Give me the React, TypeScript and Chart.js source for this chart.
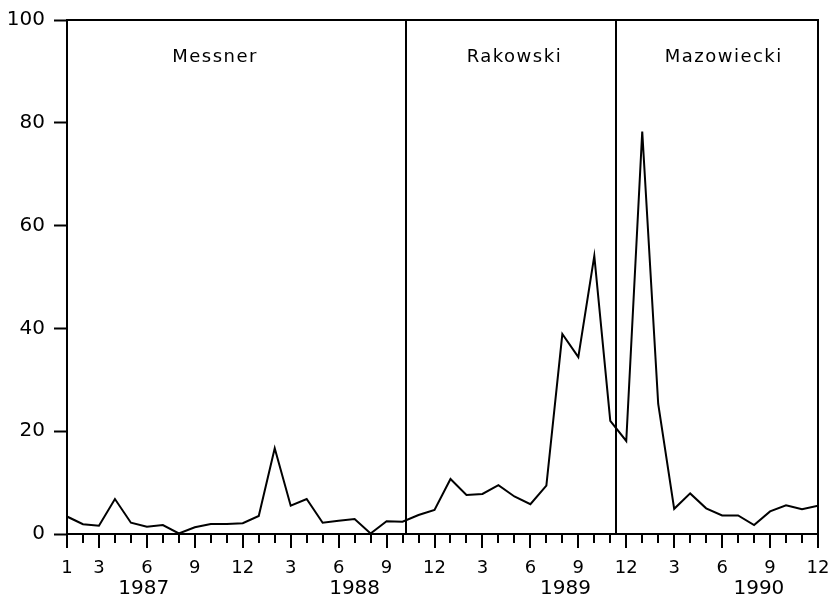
import React, { useEffect, useRef } from 'react';
import { Chart, registerables } from 'chart.js';

Chart.register(...registerables);

// Month index: 1 = Jan 1987 ... 48 = Dec 1990
const months: number[] = Array.from({ length: 48 }, (_, i) => i + 1);

const seriesValues: number[] = [
  3.4, 1.9, 1.6, 6.8, 2.2, 1.4, 1.75, 0.1, 1.3, 1.95, 1.95, 2.1,
  3.5, 16.7, 5.5, 6.8, 2.2, 2.6, 2.9, 0.1, 2.5, 2.4, 3.7, 4.7,
  10.7, 7.6, 7.8, 9.5, 7.3, 5.8, 9.4, 38.9, 34.4, 54.1, 22.0, 18.1,
  78.3, 25.3, 4.9, 7.9, 5.0, 3.6, 3.6, 1.75, 4.4, 5.6, 4.8, 5.5,
];

const majorTicks: number[] = [1, 3, 6, 9, 12, 15, 18, 21, 24, 27, 30, 33, 36, 39, 42, 45, 48];
const majorTickLabels: string[] = ['1', '3', '6', '9', '12', '3', '6', '9', '12', '3', '6', '9', '12', '3', '6', '9', '12'];

const yearLabels: string[] = ['1987', '1988', '1989', '1990'];
const yearLabelPositions: number[] = [5.8, 19.0, 32.2, 44.3];

const yTicks: number[] = [0, 20, 40, 60, 80, 100];

const periodBoundaries: number[] = [22.2, 35.35];
const periodNames: string[] = ['Messner', 'Rakowski', 'Mazowiecki'];
const periodLabelPositions: number[] = [10.27, 29.0, 42.1];

const FONT = '"DejaVu Sans", sans-serif';

const decorPlugin = {
  id: 'decor',
  afterDraw(chart: any) {
    const { ctx, chartArea, scales } = chart;
    const { left, right, top, bottom } = chartArea;
    const x = scales.x;
    ctx.save();
    ctx.strokeStyle = '#000';
    ctx.lineWidth = 2;
    ctx.lineCap = 'square';
    ctx.beginPath();
    ctx.moveTo(left, top);
    ctx.lineTo(right, top);
    ctx.lineTo(right, bottom);
    ctx.stroke();

    ctx.lineCap = 'butt';
    periodBoundaries.forEach((b) => {
      const px = Math.round(x.getPixelForValue(b));
      ctx.beginPath();
      ctx.moveTo(px, top);
      ctx.lineTo(px, bottom);
      ctx.stroke();
    });

    months.forEach((m) => {
      const px = Math.round(x.getPixelForValue(m));
      const len = majorTicks.includes(m) ? 14 : 9;
      ctx.beginPath();
      ctx.moveTo(px, bottom - 1);
      ctx.lineTo(px, bottom + len);
      ctx.stroke();
    });

    ctx.fillStyle = '#000';
    ctx.font = '18px ' + FONT;
    ctx.textAlign = 'center';
    ctx.textBaseline = 'middle';
    try { (ctx as any).letterSpacing = '1.5px'; } catch (e) {}
    periodNames.forEach((n, i) => {
      ctx.fillText(n, x.getPixelForValue(periodLabelPositions[i]), top + 37);
    });
    ctx.restore();
  },
};

export default function App() {
  const canvasRef = useRef<HTMLCanvasElement | null>(null);

  useEffect(() => {
    document.body.style.margin = '0';
    const canvas = canvasRef.current;
    if (!canvas) return;
    const chart = new Chart(canvas, {
      type: 'line',
      data: {
        datasets: [
          {
            data: months.map((m, i) => ({ x: m, y: seriesValues[i] })),
            borderColor: '#000',
            borderWidth: 2,
            pointRadius: 0,
            tension: 0,
            fill: false,
          },
        ],
      },
      options: {
        responsive: false,
        animation: false,
        layout: { padding: { top: 20, right: 11, left: 0, bottom: 0 } },
        plugins: { legend: { display: false }, tooltip: { enabled: false } },
        scales: {
          x: {
            type: 'linear',
            position: 'bottom',
            min: 1,
            max: 48,
            afterBuildTicks: (scale: any) => {
              scale.ticks = majorTicks.map((v) => ({ value: v }));
            },
            afterFit: (scale: any) => {
              scale.height = 40;
              scale.paddingLeft = 0;
              scale.paddingRight = 0;
            },
            ticks: {
              autoSkip: false,
              maxRotation: 0,
              minRotation: 0,
              padding: 24,
              color: '#000',
              font: { family: FONT, size: 18 },
              callback: (value: any, index: number) => majorTickLabels[index] ?? '',
            },
            grid: { display: false, drawTicks: false },
            border: { display: true, color: '#000', width: 2 },
          },
          x2: {
            type: 'linear',
            position: 'bottom',
            min: 1,
            max: 48,
            afterBuildTicks: (scale: any) => {
              scale.ticks = yearLabelPositions.map((v) => ({ value: v }));
            },
            afterFit: (scale: any) => {
              scale.height = 23;
              scale.paddingLeft = 0;
              scale.paddingRight = 0;
            },
            ticks: {
              autoSkip: false,
              maxRotation: 0,
              minRotation: 0,
              padding: 3,
              color: '#000',
              font: { family: FONT, size: 20 },
              callback: (value: any, index: number) => yearLabels[index] ?? '',
            },
            grid: { display: false, drawTicks: false },
            border: { display: false },
          },
          y: {
            type: 'linear',
            position: 'left',
            min: 0,
            max: 100,
            afterBuildTicks: (scale: any) => {
              scale.ticks = yTicks.map((v) => ({ value: v }));
            },
            afterFit: (scale: any) => {
              scale.width = 67;
              scale.paddingTop = 0;
              scale.paddingBottom = 0;
            },
            ticks: {
              padding: 9,
              color: '#000',
              font: { family: FONT, size: 20 },
            },
            grid: {
              display: true,
              drawOnChartArea: false,
              drawTicks: true,
              tickLength: 13,
              tickWidth: 2,
              tickColor: '#000',
            },
            border: { display: true, color: '#000', width: 2 },
          },
        },
      },
      plugins: [decorPlugin],
    });
    return () => chart.destroy();
  }, []);

  return (
    <div style={{ position: 'fixed', left: 0, top: 0, width: 829, height: 597, background: '#fff' }}>
      <canvas ref={canvasRef} width={829} height={597} style={{ display: 'block' }} />
    </div>
  );
}
